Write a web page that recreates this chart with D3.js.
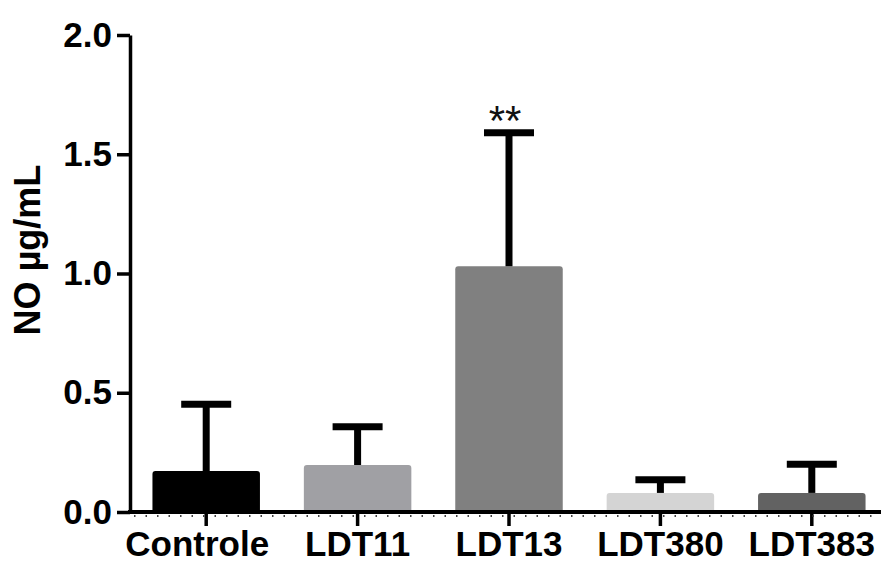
<!DOCTYPE html>
<html>
<head>
<meta charset="utf-8">
<script src="https://cdn.jsdelivr.net/npm/d3@7"></script>
<style>
  body { margin: 0; background: #fff; }
  svg text { font-family: "Liberation Sans", Arial, sans-serif; }
</style>
</head>
<body>
<svg id="chart" width="883" height="564"></svg>
<script>
const groups = ["Controle", "LDT11", "LDT13", "LDT380", "LDT383"];
const means = [0.172, 0.197, 1.03, 0.08, 0.08];
const errors = [0.28, 0.16, 0.56, 0.055, 0.12];
const barColors = ["#000000", "#a0a0a4", "#808080", "#d4d4d4", "#626262"];
const stars = ["", "", "**", "", ""];
const yTicks = [0, 0.5, 1.0, 1.5, 2.0];

const svg = d3.select("#chart");
const plotLeft = 130, plotTop = 35, plotBottom = 512, plotRight = 881;

const x = d3.scaleBand()
  .domain(groups)
  .range([130.5, 887.5])
  .paddingInner(0.29)
  .paddingOuter(0.145);

const y = d3.scaleLinear()
  .domain([0, 2])
  .range([plotBottom, plotTop]);

// bars
svg.selectAll(".bar")
  .data(groups)
  .enter().append("path")
  .attr("class", "bar")
  .attr("fill", (d, i) => barColors[i])
  .attr("d", (d, i) => {
    const x0 = x(d), w = x.bandwidth(), y0 = y(means[i]), r = 3;
    return `M${x0},${plotBottom} V${y0 + r} Q${x0},${y0} ${x0 + r},${y0} H${x0 + w - r} Q${x0 + w},${y0} ${x0 + w},${y0 + r} V${plotBottom} Z`;
  });

// error bars
const eb = svg.selectAll(".err")
  .data(groups)
  .enter().append("g")
  .attr("class", "err")
  .attr("stroke", "#000")
  .attr("stroke-width", 7);

eb.append("line")
  .attr("x1", d => x(d) + x.bandwidth() / 2)
  .attr("x2", d => x(d) + x.bandwidth() / 2)
  .attr("y1", (d, i) => y(means[i]))
  .attr("y2", (d, i) => y(means[i] + errors[i]));

eb.append("line")
  .attr("x1", d => x(d) + x.bandwidth() / 2 - 25)
  .attr("x2", d => x(d) + x.bandwidth() / 2 + 25)
  .attr("y1", (d, i) => y(means[i] + errors[i]))
  .attr("y2", (d, i) => y(means[i] + errors[i]));

// significance marks
svg.selectAll(".star")
  .data(groups)
  .enter().append("text")
  .attr("class", "star")
  .attr("x", d => x(d) + x.bandwidth() / 2 - 4)
  .attr("y", (d, i) => y(means[i] + errors[i]) + 2)
  .attr("text-anchor", "middle")
  .attr("font-size", 42)
  .attr("fill", "#111")
  .text((d, i) => stars[i]);

// y axis
const yAxis = svg.append("g")
  .attr("transform", `translate(${plotLeft},0)`)
  .call(d3.axisLeft(y).tickValues(yTicks).tickFormat(d3.format(".1f")).tickSize(13).tickSizeOuter(0).tickPadding(5));
yAxis.select(".domain").attr("stroke-width", 3.5);
yAxis.selectAll(".tick line").attr("stroke-width", 3.5);
yAxis.selectAll(".tick text")
  .attr("font-size", 35)
  .attr("font-weight", "bold")
  .attr("fill", "#000");

// x axis
const xAxis = svg.append("g")
  .attr("transform", `translate(0,${plotBottom})`)
  .call(d3.axisBottom(x).tickSize(14).tickSizeOuter(0).tickPadding(5));
xAxis.select(".domain").remove();
xAxis.selectAll(".tick line").attr("stroke-width", 3.5);
xAxis.selectAll(".tick text")
  .attr("font-size", 35)
  .attr("font-weight", "bold")
  .attr("fill", "#000")
  .attr("dx", d => d === "Controle" ? -9 : 0);

svg.append("line")
  .attr("x1", plotLeft - 2).attr("x2", plotRight)
  .attr("y1", plotBottom).attr("y2", plotBottom)
  .attr("stroke", "#000")
  .attr("stroke-width", 4);

// faint minor ticks under baseline
svg.append("line")
  .attr("x1", plotLeft + 4).attr("x2", plotRight)
  .attr("y1", plotBottom + 4).attr("y2", plotBottom + 4)
  .attr("stroke", "#444")
  .attr("stroke-width", 2)
  .attr("stroke-dasharray", "1.5,10");

// y title
svg.append("text")
  .attr("transform", `translate(40,250) rotate(-90)`)
  .attr("text-anchor", "middle")
  .attr("font-size", 36)
  .attr("font-weight", "bold")
  .text("NO µg/mL");
</script>
</body>
</html>
